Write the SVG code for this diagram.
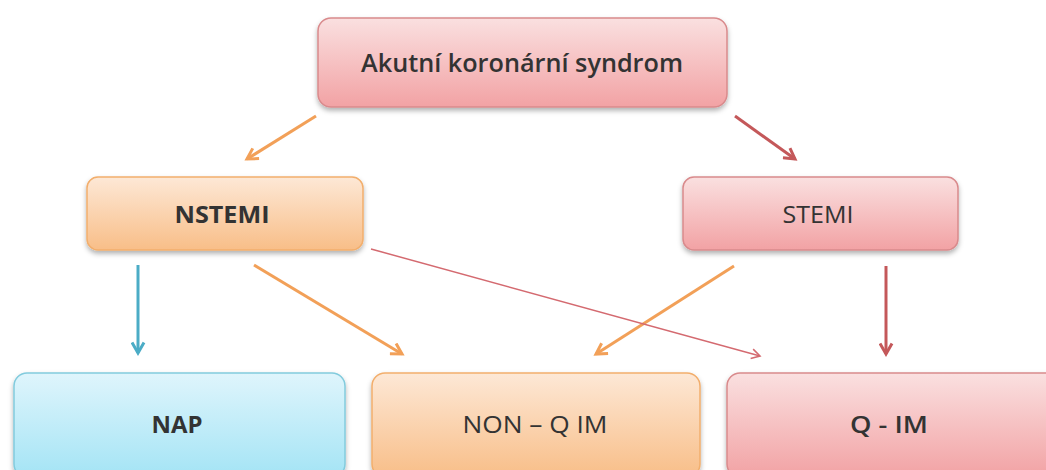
<svg xmlns="http://www.w3.org/2000/svg" width="1046" height="470" viewBox="0 0 1046 470">
<defs>
<linearGradient id="gRed" x1="0" y1="0" x2="0" y2="1"><stop offset="0" stop-color="#FAE0E0"/><stop offset="1" stop-color="#F2A2A4"/></linearGradient>
<linearGradient id="gOr" x1="0" y1="0" x2="0" y2="1"><stop offset="0" stop-color="#FDE8D6"/><stop offset="1" stop-color="#F8BE88"/></linearGradient>
<linearGradient id="gBl" x1="0" y1="0" x2="0" y2="1"><stop offset="0" stop-color="#DFF5FC"/><stop offset="1" stop-color="#A4E4F5"/></linearGradient>
<filter id="sh" x="-10%" y="-20%" width="120%" height="150%"><feDropShadow dx="0" dy="3" stdDeviation="2.5" flood-color="#000" flood-opacity="0.3"/></filter>
<marker id="mOr" viewBox="0 0 10 10" refX="8" refY="5" markerWidth="5" markerHeight="5" orient="auto" markerUnits="strokeWidth"><path d="M1,1 L8,5 L1,9" fill="none" stroke="#F2A058" stroke-width="2"/></marker>
<marker id="mRed" viewBox="0 0 10 10" refX="8" refY="5" markerWidth="5" markerHeight="5" orient="auto" markerUnits="strokeWidth"><path d="M1,1 L8,5 L1,9" fill="none" stroke="#C4585A" stroke-width="2"/></marker>
<marker id="mRedT" viewBox="0 0 10 10" refX="8" refY="5" markerWidth="8" markerHeight="8" orient="auto" markerUnits="strokeWidth"><path d="M1,1 L8,5 L1,9" fill="none" stroke="#D46A70" stroke-width="1.3"/></marker>
<marker id="mBl" viewBox="0 0 10 10" refX="8" refY="5" markerWidth="5" markerHeight="5" orient="auto" markerUnits="strokeWidth"><path d="M1,1 L8,5 L1,9" fill="none" stroke="#4BACC6" stroke-width="2"/></marker>
</defs>
<style>
.box{filter:url(#sh);stroke-width:1.5}
.red{fill:url(#gRed);stroke:#D98A8C}
.or{fill:url(#gOr);stroke:#F2AE6C}
.bl{fill:url(#gBl);stroke:#82CBDD}
.t{font-family:"Open Sans","Liberation Sans",sans-serif;fill:#333333;text-anchor:middle;dominant-baseline:central}
.c{fill:none;stroke-width:3}
</style>
<rect width="1046" height="470" fill="#FFFFFF"/>
<g id="connectors">
<line class="c" x1="316" y1="116" x2="247" y2="159" stroke="#F2A058" marker-end="url(#mOr)"/>
<line class="c" x1="735" y1="116" x2="795" y2="159" stroke="#C4585A" marker-end="url(#mRed)"/>
<line class="c" x1="138" y1="265" x2="138" y2="353" stroke="#4BACC6" marker-end="url(#mBl)"/>
<line class="c" x1="254" y1="265" x2="402" y2="354" stroke="#F2A058" marker-end="url(#mOr)"/>
<line class="c" x1="734" y1="266" x2="596" y2="354" stroke="#F2A058" marker-end="url(#mOr)"/>
<line class="c" x1="886" y1="266" x2="886" y2="354" stroke="#C4585A" marker-end="url(#mRed)"/>
<line fill="none" stroke-width="1.5" x1="371" y1="249" x2="760" y2="356" stroke="#D46A70" marker-end="url(#mRedT)"/>
</g>
<g id="node-aks">
<rect class="box red" x="318" y="18" width="409" height="89" rx="13"/>
<text class="t" x="522" y="62" font-size="25" font-weight="600" textLength="322" lengthAdjust="spacingAndGlyphs">Akutní koronární syndrom</text>
</g>
<g id="node-nstemi">
<rect class="box or" x="87" y="177" width="276" height="73" rx="11"/>
<text class="t" x="222" y="213" font-size="24" font-weight="700" textLength="95" lengthAdjust="spacingAndGlyphs">NSTEMI</text>
</g>
<g id="node-stemi">
<rect class="box red" x="683" y="177" width="275" height="73" rx="11"/>
<text class="t" x="818" y="213" font-size="24" font-weight="500" textLength="71" lengthAdjust="spacingAndGlyphs">STEMI</text>
</g>
<g id="node-nap">
<rect class="box bl" x="14" y="373" width="331" height="104" rx="13"/>
<text class="t" x="177" y="423" font-size="24" font-weight="700" textLength="51" lengthAdjust="spacingAndGlyphs">NAP</text>
</g>
<g id="node-nonq">
<rect class="box or" x="372" y="373" width="328" height="104" rx="13"/>
<text class="t" x="535" y="423" font-size="24" font-weight="500" textLength="145" lengthAdjust="spacingAndGlyphs">NON – Q IM</text>
</g>
<g id="node-qim">
<rect class="box red" x="727" y="373" width="340" height="104" rx="13"/>
<text class="t" x="889" y="423" font-size="24" font-weight="600" textLength="78" lengthAdjust="spacingAndGlyphs">Q - IM</text>
</g>
</svg>
